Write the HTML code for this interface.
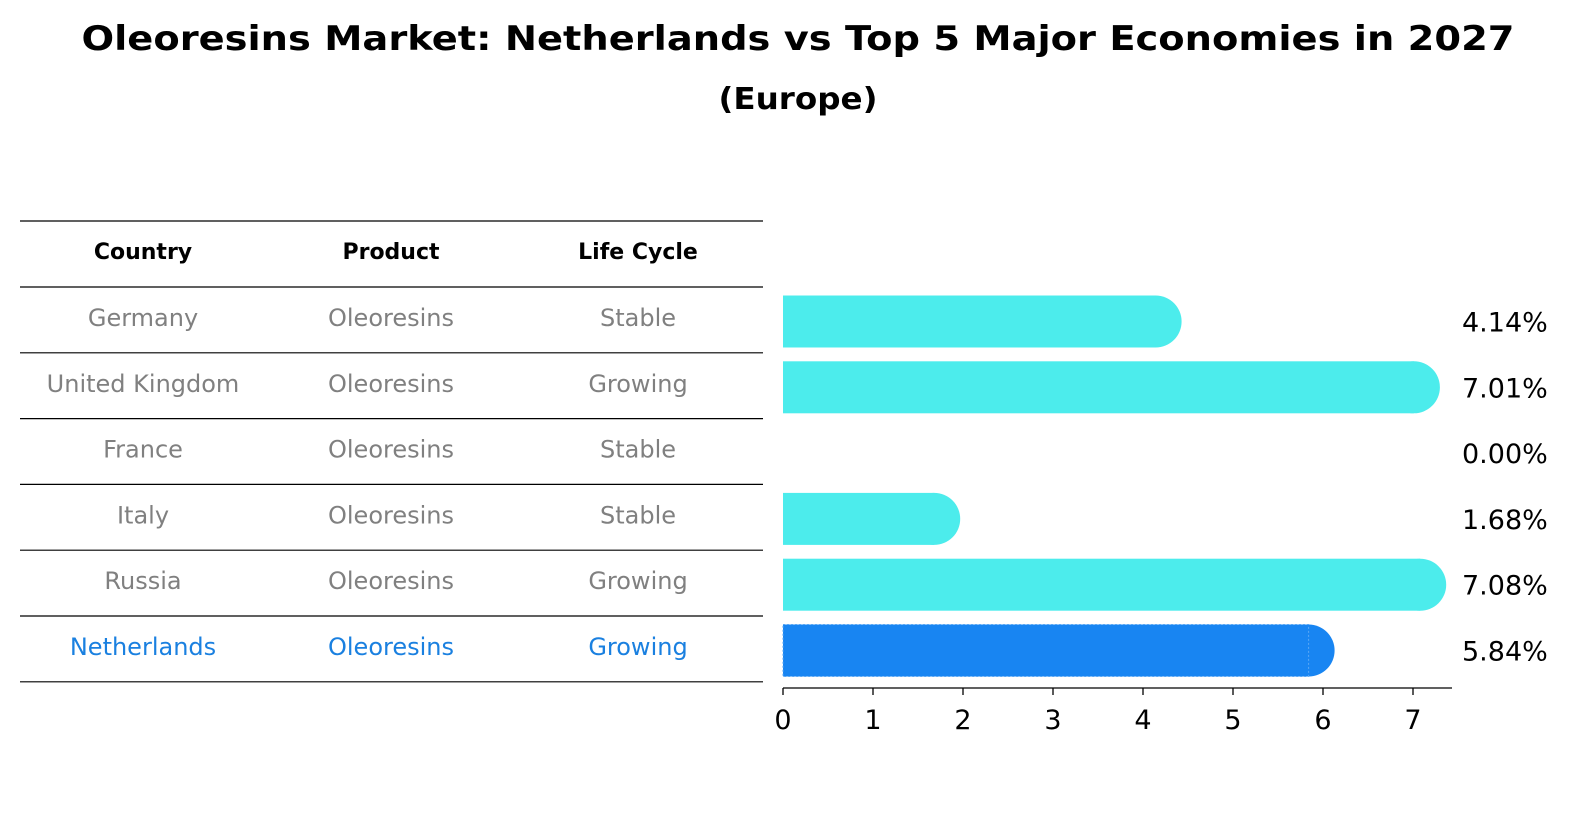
<!DOCTYPE html>
<html><head><meta charset="utf-8"><style>
body{margin:0;background:#fff;width:1586px;height:823px;overflow:hidden;font-family:"DejaVu Sans","Liberation Sans",sans-serif}
</style></head><body>
<svg width="1586" height="823" xmlns="http://www.w3.org/2000/svg" font-family="DejaVu Sans, Liberation Sans, sans-serif">
<text x="798" y="50" text-anchor="middle" font-size="34" font-weight="bold" textLength="1433" lengthAdjust="spacingAndGlyphs">Oleoresins Market: Netherlands vs Top 5 Major Economies in 2027</text>
<text x="798" y="109" text-anchor="middle" font-size="30" font-weight="bold" textLength="159" lengthAdjust="spacingAndGlyphs">(Europe)</text>
<g id="table"></g>
<g id="bars"></g>
</svg>
<script>
const countries=["Germany","United Kingdom","France","Italy","Russia","Netherlands"];
const products=["Oleoresins","Oleoresins","Oleoresins","Oleoresins","Oleoresins","Oleoresins"];
const lifecycles=["Stable","Growing","Stable","Stable","Growing","Growing"];
const values=[4.14,7.01,0.00,1.68,7.08,5.84];
const ticks=[0,1,2,3,4,5,6,7];
const NS="http://www.w3.org/2000/svg";
const x0=783,ppu=90;
const xs=v=>x0+v*ppu;
const rowTop=i=>287+i*65.8;
const tbl=document.getElementById('table'),bars=document.getElementById('bars');
function mk(tag,attrs,parent,text){const e=document.createElementNS(NS,tag);for(const k in attrs)e.setAttribute(k,attrs[k]);if(text!==undefined)e.textContent=text;parent.appendChild(e);return e;}
for(let i=0;i<=7;i++){const y=i==0?221:rowTop(i-1);const l=mk('line',{x1:20,x2:763,y1:y,y2:y,stroke:'#000','stroke-width':1.2},tbl);

}
const colX=[143,391,638];
["Country","Product","Life Cycle"].forEach((h,j)=>{const t=mk('text',{x:colX[j],y:259,'text-anchor':'middle','font-size':22,'font-weight':'bold'},tbl,h);

});
countries.forEach((c,i)=>{const y=rowTop(i)+39;const last=i==countries.length-1;const col=last?'#1a80e0':'#808080';
[c,products[i],lifecycles[i]].forEach((v,j)=>{const t=mk('text',{x:colX[j],y:y,'text-anchor':'middle','font-size':24,fill:col},tbl,v);

});
const v=values[i];const cy=rowTop(i)+34.5;const h=52;
if(v>0){const g=mk('g',{},bars);


const fill=last?'#1885F2':'#4CECEC';
mk('rect',{x:x0,y:cy-h/2,width:xs(v)-x0,height:h,fill:fill},g);
mk('circle',{cx:xs(v),cy:cy,r:h/2,fill:fill},g);
if(last)mk('rect',{x:x0,y:cy-h/2,width:xs(v)-x0,height:h,fill:'none',stroke:'#5aa8f5','stroke-width':1,'stroke-dasharray':'2 2'},g);}
const lt=mk('text',{x:1462,y:cy+10,'font-size':27},bars,v.toFixed(2)+'%');

});
const ax=mk('line',{x1:x0,x2:1452,y1:688,y2:688,stroke:'#000','stroke-width':1.3},bars);


ticks.forEach(t=>{mk('line',{x1:xs(t),x2:xs(t),y1:688,y2:695,stroke:'#000','stroke-width':1.3},bars);
const tt=mk('text',{x:xs(t),y:729,'text-anchor':'middle','font-size':27},bars,String(t));

});
</script>
</body></html>
